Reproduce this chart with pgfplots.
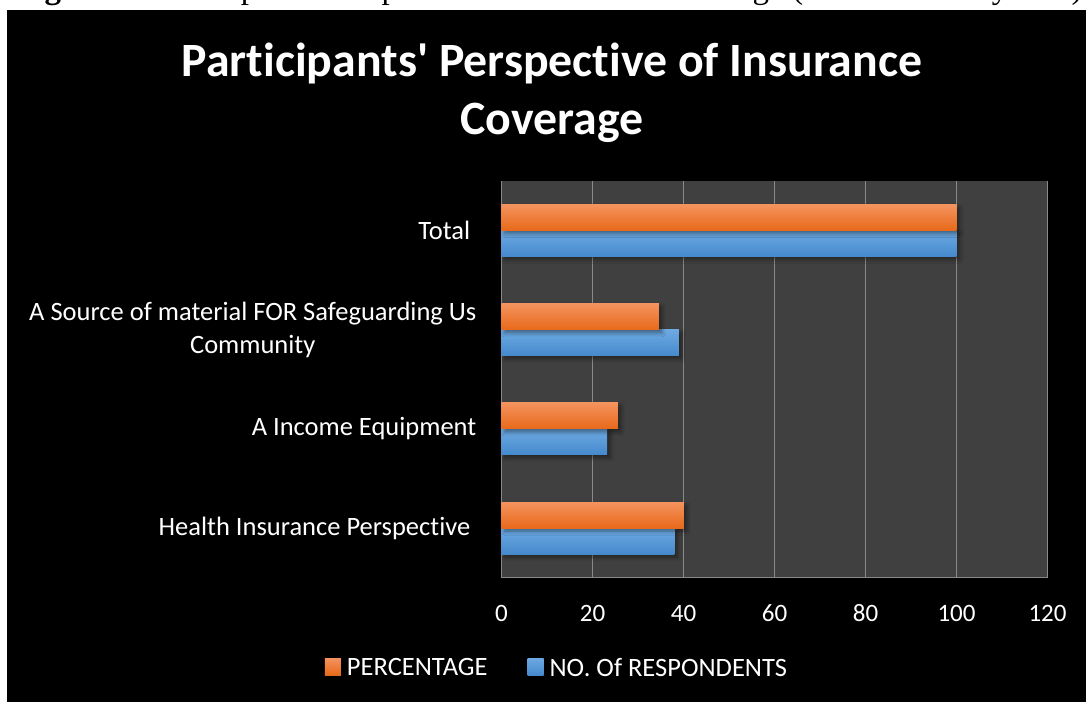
\documentclass[border=0pt]{standalone}
\usepackage{fontspec}
\setmainfont{Carlito}[Ligatures={TeX,NoCommon}]
\newfontfamily\capfont{Liberation Serif}
\usepackage{pgfplots}
\pgfplotsset{compat=1.18}
\usetikzlibrary{shadows.blur}
\definecolor{plotbg}{HTML}{404040}
\definecolor{gridc}{HTML}{8A8A8A}
\definecolor{orTop}{HTML}{F4935E}
\definecolor{orBot}{HTML}{E8691A}
\definecolor{blTop}{HTML}{6DAAE2}
\definecolor{blBot}{HTML}{4589CD}
\pgfplotsset{
  orbar/.style={fill, draw=none, top color=orTop, bottom color=orBot, bar shift=13pt, forget plot,
    blur shadow={shadow xshift=3pt, shadow yshift=-3pt, shadow blur steps=6, shadow opacity=45, shadow blur radius=4pt}},
  blbar/.style={fill, draw=none, top color=blTop, bottom color=blBot, bar shift=-13pt, forget plot,
    blur shadow={shadow xshift=3pt, shadow yshift=-3pt, shadow blur steps=6, shadow opacity=45, shadow blur radius=4pt}},
}
\begin{document}
\begin{tikzpicture}
\useasboundingbox (0pt,0pt) rectangle (1086pt,702pt);
\clip (0pt,0pt) rectangle (1086pt,702pt);
\fill[white] (0pt,0pt) rectangle (1086pt,702pt);
\node[anchor=base west, inner sep=0, font=\capfont\fontsize{33}{33}\selectfont] at (15pt,703pt)
  {\textbf{Figure 4:} Participants\textquotesingle\ Perspective of Insurance Coverage (Source: Survey data)};
\fill[black] (7pt,0pt) rectangle (1086pt,692pt);
\node[anchor=base, inner sep=0, text=white, font=\bfseries\fontsize{47.8}{47.8}\selectfont] at (552pt,625.3pt)
  {Participants\textquotesingle\ Perspective of Insurance};
\node[anchor=base, inner sep=0, text=white, font=\bfseries\fontsize{47.8}{47.8}\selectfont] at (552pt,567.3pt)
  {Coverage};
\begin{axis}[
  at={(501.5pt,124.3pt)}, anchor=south west,
  scale only axis, width=546pt, height=396.7pt,
  xmin=0, xmax=120, ymin=-0.5, ymax=3.5,
  xbar=0pt, bar width=26pt,
  axis background/.style={fill=plotbg},
  axis x line*=bottom, axis y line*=left,
  axis line style={gridc, line width=1.5pt, -},
  xtick={0,20,...,120}, ytick={0,1,2,3},
  yticklabels={Health Insurance Perspective\kern0.23em, A Income Equipment, {A Source of material FOR Safeguarding Us\\Community}, Total\kern0.23em},
  major tick length=0pt,
  xmajorgrids, grid style={gridc, line width=1.5pt},
  ticklabel style={text=white, inner sep=0pt},
  xticklabel style={anchor=north, yshift=-27pt, font=\fontsize{25}{31}\selectfont},
  yticklabel style={align=center, anchor=east, xshift=-25pt, font=\fontsize{26.5}{33}\selectfont},
  /pgf/number format/assume math mode=true,
  legend columns=2,
  legend style={at={(axis description cs:0.0998,-0.2276)}, anchor=center,
    draw=none, fill=none, text=white, font=\fontsize{26.5}{31}\selectfont,
    nodes={inner sep=0pt},
    /tikz/every odd column/.append style={column sep=6pt},
    /tikz/every even column/.append style={column sep=40pt}},
  legend image code/.code={\fill[#1] (0pt,-7pt) rectangle (16pt,10pt);},
]
\addlegendimage{fill, draw=none, top color=orTop, bottom color=orBot}
\addlegendentry{PERCENTAGE}
\addlegendimage{fill, draw=none, top color=blTop, bottom color=blBot}
\addlegendentry{NO. Of RESPONDENTS}
% NO. Of RESPONDENTS
\addplot[blbar] coordinates {(38,0)};
\addplot[blbar] coordinates {(23.2,1)};
\addplot[blbar] coordinates {(39,2)};
\addplot[blbar] coordinates {(100,3)};
% PERCENTAGE
\addplot[orbar] coordinates {(40.1,0)};
\addplot[orbar] coordinates {(25.6,1)};
\addplot[orbar] coordinates {(34.6,2)};
\addplot[orbar] coordinates {(100,3)};
\end{axis}
\end{tikzpicture}
\end{document}
